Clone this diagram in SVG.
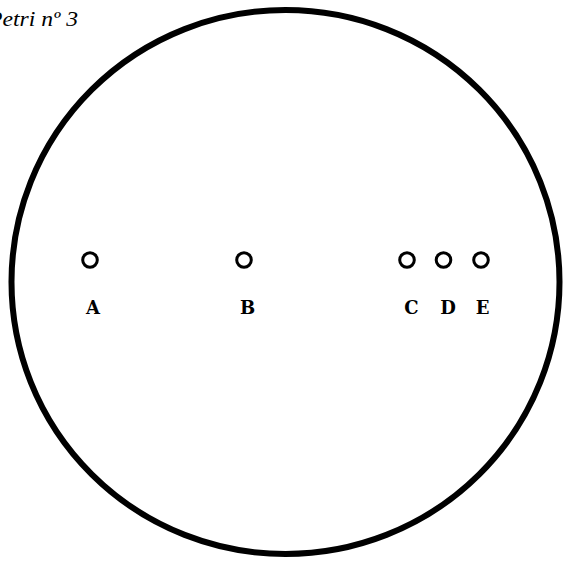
<svg xmlns="http://www.w3.org/2000/svg" width="564" height="561" viewBox="0 0 564 561">
<style>
.dish{fill:none;stroke:#000;stroke-width:6}
.colony{fill:none;stroke:#000;stroke-width:3}
.lbl{font-family:"DejaVu Serif","Liberation Serif",serif;font-weight:bold;font-size:18px;text-anchor:middle;fill:#000}
.title{font-family:"Liberation Serif",serif;font-style:italic;font-size:21px;fill:#000}
</style>
<rect width="564" height="561" fill="#fff"/>
<text class="title" x="-12" y="26" textLength="90" lengthAdjust="spacingAndGlyphs">Petri nº 3</text>
<g id="dish"><ellipse class="dish" cx="285.5" cy="282" rx="274" ry="272"/></g>
<g id="connectors"></g>
<g id="A"><circle class="colony" cx="90" cy="260" r="7.3"/><text class="lbl" x="93" y="314">A</text></g>
<g id="B"><circle class="colony" cx="244" cy="260" r="7.3"/><text class="lbl" x="247.5" y="314">B</text></g>
<g id="C"><circle class="colony" cx="407" cy="260" r="7.3"/><text class="lbl" x="411.5" y="314">C</text></g>
<g id="D"><circle class="colony" cx="443.5" cy="260" r="7.3"/><text class="lbl" x="448" y="314">D</text></g>
<g id="E"><circle class="colony" cx="481" cy="260" r="7.3"/><text class="lbl" x="482.5" y="314">E</text></g>
</svg>
